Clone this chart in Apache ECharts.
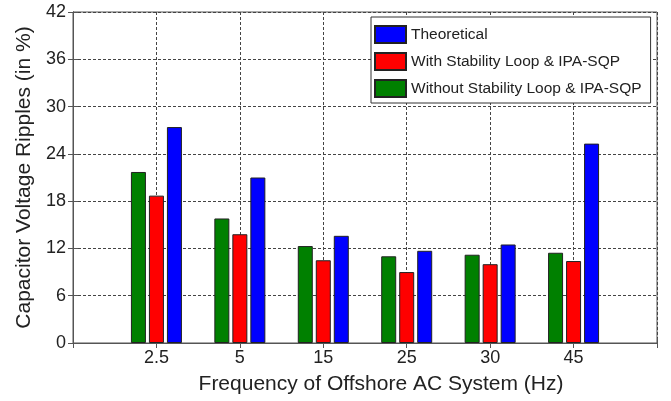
<!DOCTYPE html>
<html>
<head>
<meta charset="utf-8">
<style>
  html, body { margin: 0; padding: 0; background: #fff; }
  #chart { width: 671px; height: 401px; }
</style>
<script src="https://cdn.jsdelivr.net/npm/echarts@6/dist/echarts.min.js"></script>
</head>
<body>
<div id="chart"></div>
<script>
// Offshore AC system frequencies (Hz), one group of bars each
const frequencies = ['2.5', '5', '15', '25', '30', '45'];

// Capacitor voltage ripples (in %)
const withoutStability = [21.7, 15.8, 12.3, 11.0, 11.2, 11.45];
const withStability = [18.7, 13.8, 10.5, 9.0, 10.0, 10.4];
const theoretical = [27.4, 21.0, 13.6, 11.7, 12.5, 25.3];

const yTicks = [0, 6, 12, 18, 24, 30, 36, 42];

const FONT = '"Liberation Sans", Arial, sans-serif';
const TEXT = '#222';
const FRAME = '#555';

// groups sit at x = 1..N on a numeric axis running 0..N+1
const pairs = vals => vals.map((v, i) => [i + 1, v]);

const chart = echarts.init(document.getElementById('chart'), null, { renderer: 'canvas' });

const barStyle = color => ({
  color: color,
  borderColor: '#222',
  borderWidth: 1
});

const tickInside = { show: true, inside: true, length: 5, lineStyle: { color: FRAME, width: 1 } };

chart.setOption({
  animation: false,
  backgroundColor: '#fff',
  textStyle: { fontFamily: FONT },
  grid: {
    left: 73, right: 14, top: 12, bottom: 58,
    show: true, borderColor: FRAME, borderWidth: 1,
    containLabel: false
  },
  legend: {
    orient: 'vertical',
    left: 371, top: 17,
    data: ['Theoretical', 'With Stability Loop & IPA-SQP', 'Without Stability Loop & IPA-SQP'],
    icon: 'rect',
    itemWidth: 31, itemHeight: 17, itemGap: 8,
    padding: [8, 9, 5, 3],
    backgroundColor: '#fff',
    borderColor: '#333', borderWidth: 1, borderRadius: 0,
    textStyle: { fontFamily: FONT, fontSize: 15.5, color: TEXT }
  },
  xAxis: [
    {
      type: 'value',
      min: 0, max: frequencies.length + 1, interval: 1,
      position: 'bottom',
      name: 'Frequency of Offshore AC System (Hz)',
      nameLocation: 'middle',
      nameGap: 31,
      nameTextStyle: { fontFamily: FONT, fontSize: 21, color: TEXT, padding: [0, 0, 0, 32] },
      axisLine: { show: true, lineStyle: { color: FRAME, width: 1 } },
      axisTick: tickInside,
      axisLabel: {
        show: true, margin: 6,
        fontFamily: FONT, fontSize: 18, color: TEXT,
        formatter: v => (v >= 1 && v <= frequencies.length) ? frequencies[v - 1] : ''
      },
      splitLine: { show: true, lineStyle: { color: '#444', type: [3, 2], width: 1 } }
    },
    {
      type: 'value',
      min: 0, max: frequencies.length + 1, interval: 1,
      position: 'top',
      axisLine: { show: true, lineStyle: { color: FRAME, width: 1 } },
      axisTick: tickInside,
      axisLabel: { show: false },
      splitLine: { show: false }
    }
  ],
  yAxis: [
    {
      type: 'value',
      min: yTicks[0], max: yTicks[yTicks.length - 1], interval: 6,
      position: 'left',
      name: 'Capacitor Voltage Ripples (in %)',
      nameLocation: 'middle',
      nameGap: 37,
      nameTextStyle: { fontFamily: FONT, fontSize: 21, color: TEXT },
      axisLine: { show: true, lineStyle: { color: FRAME, width: 1 } },
      axisTick: tickInside,
      axisLabel: { margin: 7, fontFamily: FONT, fontSize: 18, color: TEXT },
      splitLine: { show: true, lineStyle: { color: '#444', type: [3, 2], width: 1 } }
    },
    {
      type: 'value',
      min: yTicks[0], max: yTicks[yTicks.length - 1], interval: 6,
      position: 'right',
      axisLine: { show: true, lineStyle: { color: FRAME, width: 1 } },
      axisTick: tickInside,
      axisLabel: { show: false },
      splitLine: { show: false }
    }
  ],
  series: [
    {
      name: 'Without Stability Loop & IPA-SQP',
      type: 'bar',
      data: pairs(withoutStability),
      barWidth: 15, barGap: '20%',
      itemStyle: barStyle('#008000')
    },
    {
      name: 'With Stability Loop & IPA-SQP',
      type: 'bar',
      data: pairs(withStability),
      barWidth: 15, barGap: '20%',
      itemStyle: barStyle('#ff0000')
    },
    {
      name: 'Theoretical',
      type: 'bar',
      data: pairs(theoretical),
      barWidth: 15, barGap: '20%',
      itemStyle: barStyle('#0000ff')
    }
  ]
});
</script>
</body>
</html>
